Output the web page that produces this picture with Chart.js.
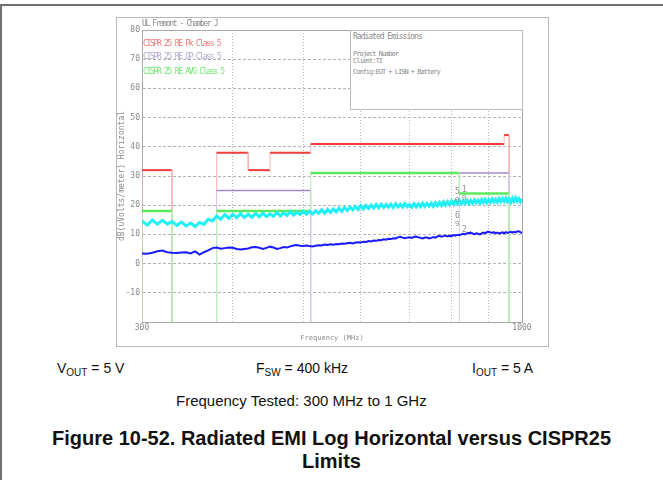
<!DOCTYPE html>
<html>
<head>
<meta charset="utf-8">
<script src="https://cdn.jsdelivr.net/npm/chart.js@4.4.1/dist/chart.umd.min.js"></script>
<style>
body { margin: 0; width: 663px; height: 480px; background: #fff; position: relative; overflow: hidden; font-family: "Liberation Sans", Arial, sans-serif; }
.abs { position: absolute; }
#topline { left: 0; top: 4px; width: 663px; height: 2px; background: #707070; }
#leftline { left: 0; top: 4px; width: 2px; height: 476px; background: #707070; }
#frame { left: 116px; top: 17px; width: 431px; height: 328px; border: 1px solid #b8b8b8; }
#chartBox { left: 0; top: 0; width: 663px; height: 350px; }
.mono { font-family: "DejaVu Sans Mono", monospace; white-space: nowrap; line-height: 1; }
#infoBox { left: 350px; top: 30px; width: 171px; height: 78px; border: 1px solid #bdbdbd; background: #fff; }
.small { font-size: 14px; color: #111; white-space: nowrap; }
.small sub { font-size: 10px; vertical-align: -3px; }
#caption { left: 0; top: 427px; width: 663px; text-align: center; font-weight: bold; font-size: 20px; line-height: 23px; color: #111; }
</style>
</head>
<body>
<div class="abs" id="topline"></div>
<div class="abs" id="leftline"></div>
<div class="abs" id="frame"></div>
<div class="abs" id="chartBox"><canvas id="emi" width="663" height="350"></canvas></div>

<div class="abs mono" style="left:142px;top:20px;font-size:8px;letter-spacing:-1.4px;color:#8a8a8a;">UL Fremont - Chamber J</div>
<div class="abs mono" style="left:143px;top:40px;font-size:8px;letter-spacing:-1.3px;color:#f07878;">CISPR 25 RE Pk Class 5</div>
<div class="abs mono" style="left:143px;top:53px;font-size:8px;letter-spacing:-1.3px;color:#b4a4d0;">CISPR 25 RE QP Class 5</div>
<div class="abs mono" style="left:143px;top:68px;font-size:8px;letter-spacing:-1.3px;color:#6ee86e;">CISPR 25 RE AVG Class 5</div>

<div class="abs" id="infoBox"></div>
<div class="abs mono" style="left:353px;top:33px;font-size:8px;letter-spacing:-1px;color:#8a8a8a;">Radiated Emissions</div>
<div class="abs mono" style="left:353px;top:51px;font-size:7px;letter-spacing:-1px;color:#8a8a8a;">Project Number</div>
<div class="abs mono" style="left:353px;top:58px;font-size:7px;letter-spacing:-1px;color:#8a8a8a;">Client:TI</div>
<div class="abs mono" style="left:353px;top:69px;font-size:7px;letter-spacing:-1px;color:#8a8a8a;">Config:EUT + LISN + Battery</div>

<div class="abs mono" style="left:455px;top:188px;font-size:8px;color:#909090;">5</div>
<div class="abs mono" style="left:462px;top:186px;font-size:8px;color:#909090;">1</div>
<div class="abs mono" style="left:455px;top:197px;font-size:7px;color:#909090;">0</div>
<div class="abs mono" style="left:462px;top:195px;font-size:7px;color:#909090;">0</div>
<div class="abs mono" style="left:455px;top:212px;font-size:8px;color:#909090;">6</div>
<div class="abs mono" style="left:455px;top:221px;font-size:7px;color:#909090;">9</div>
<div class="abs mono" style="left:462px;top:226px;font-size:8px;color:#909090;">2</div>

<div class="abs small" style="left:57px;top:360px;">V<sub>OUT</sub> = 5 V</div>
<div class="abs small" style="left:256px;top:360px;">F<sub>SW</sub> = 400 kHz</div>
<div class="abs small" style="left:472px;top:360px;">I<sub>OUT</sub> = 5 A</div>
<div class="abs small" style="left:176px;top:392px;font-size:15px;">Frequency Tested: 300 MHz to 1 GHz</div>
<div class="abs" id="caption">Figure 10-52. Radiated EMI Log Horizontal versus CISPR25<br>Limits</div>

<script>
// sweep frequencies (MHz)
const freqMHz = [
  300,305,310,315,320,325,330,335,340,345,
  350,355,360,365,370,375,380,385,390,395,
  400,405,410,415,420,425,430,435,440,445,
  450,455,460,465,470,475,480,485,490,495,
  500,505,510,515,520,525,530,535,540,545,
  550,555,560,565,570,575,580,585,590,595,
  600,605,610,615,620,625,630,635,640,645,
  650,655,660,665,670,675,680,685,690,695,
  700,705,710,715,720,725,730,735,740,745,
  750,755,760,765,770,775,780,785,790,795,
  800,805,810,815,820,825,830,835,840,845,
  850,855,860,865,870,875,880,885,890,895,
  900,905,910,915,920,925,930,935,940,945,
  950,955,960,965,970,975,980,985,990,995,
  1000
];

// peak detector trace (cyan), dBuV/m
const peakTrace = [
  14.6,13.2,14.9,13.5,14.8,13.6,14.4,13.1,14.2,12.9,
  13.9,12.7,14.1,13.4,15.2,14.6,16.3,15.2,16.8,15.5,
  16.9,15.7,17.1,15.8,16.9,15.9,17.2,16.0,17.3,16.1,
  17.0,16.2,17.5,16.3,17.4,16.5,17.8,16.6,17.6,16.8,
  18.0,16.9,17.9,17.0,18.1,17.2,18.4,17.3,18.6,17.5,
  18.7,17.7,19.0,17.9,19.2,18.2,19.4,18.4,19.6,18.5,
  19.8,18.7,19.9,18.9,20.0,19.0,20.2,19.1,20.3,19.2,
  20.2,19.3,20.4,19.2,20.5,19.4,20.3,19.3,20.6,19.5,
  20.2,19.3,20.5,19.4,20.4,19.5,20.7,19.6,20.6,19.7,
  20.7,19.6,20.8,19.8,21.0,19.9,21.1,20.0,21.2,20.2,
  21.4,20.3,21.5,20.4,21.6,20.5,21.5,20.6,21.7,20.5,
  21.6,20.7,21.8,20.8,21.7,20.7,21.9,20.9,22.0,20.8,
  21.9,21.0,22.1,21.1,22.0,21.0,22.2,21.2,22.3,21.3,
  22.4,21.2,22.1,21.0,22.3,21.3,22.5,21.4,22.3,21.2,
  22.1
];

// average detector trace (blue), dBuV/m
const avgTrace = [
  3.5,3.4,3.7,4.2,4.5,3.9,3.7,3.6,3.8,3.9,
  3.5,4.2,3.1,3.9,4.5,5.3,5.5,5.1,5.3,5.5,
  5.4,5.0,4.8,5.0,5.2,5.6,5.7,5.4,5.0,5.4,
  5.8,5.5,5.0,5.3,5.7,5.5,5.9,6.2,6.4,6.1,
  6.0,6.2,6.0,5.9,6.1,6.3,6.2,6.5,6.4,6.6,
  6.5,6.7,6.6,6.9,6.8,7.0,7.1,6.9,7.2,7.3,
  7.2,7.5,7.4,7.7,7.6,7.9,7.8,8.1,8.0,8.3,
  8.2,8.5,8.4,8.7,8.6,9.0,9.2,8.9,8.7,8.9,
  9.0,8.8,9.1,9.3,9.0,8.8,8.6,8.9,8.9,8.6,
  8.8,9.1,8.9,9.3,9.5,9.2,9.4,9.6,9.3,9.5,
  9.4,9.8,9.6,9.9,9.7,10.0,10.2,10.0,10.4,10.5,
  10.6,10.3,10.1,10.4,10.2,10.0,10.3,10.6,10.4,10.8,
  10.9,10.7,10.5,10.8,10.4,10.6,10.3,10.5,10.7,10.4,
  10.8,10.5,10.7,10.9,10.6,10.9,10.7,11.0,11.1,10.8,
  10.4
];

// CISPR 25 class 5 limit bands: [start MHz, stop MHz, level dBuV/m]
const pkLimit = [[300, 330, 32], [380, 420, 38], [420, 450, 32], [450, 512, 38], [512, 945, 41], [945, 960, 44]];
const qpLimit = [[380, 512, 25], [820, 960, 31]];
const avgLimit = [[300, 330, 18], [380, 512, 18], [512, 820, 31], [820, 960, 24]];

const yTicks = [-20, -10, 0, 10, 20, 30, 40, 50, 60, 70, 80];
const xTicks = [300, 400, 500, 600, 700, 800, 900, 1000];
const yMin = -20, yMax = 80;

// turn bands into a step line that drops to the bottom of the plot between bands
function bandLine(bands) {
	const pts = [];
	let prev = null;
	bands.forEach(b => {
		if (!prev || prev[1] !== b[0]) {
			if (prev) {
				pts.push({ x: prev[1], y: yMin });
				pts.push({ x: prev[1], y: null });
			}
			pts.push({ x: b[0], y: yMin });
		}
		pts.push({ x: b[0], y: b[2] });
		pts.push({ x: b[1], y: b[2] });
		prev = b;
	});
	pts.push({ x: prev[1], y: yMin });
	return pts;
}

function limitSet(label, bands, dark, light, width) {
	return {
		label: label,
		data: bandLine(bands),
		borderColor: dark,
		borderWidth: width,
		pointRadius: 0,
		spanGaps: false,
		segment: {
			borderColor: c => c.p0.parsed.x === c.p1.parsed.x ? light : dark,
			borderWidth: c => c.p0.parsed.x === c.p1.parsed.x ? 1 : width,
		},
	};
}

const frame = {
	id: "frame",
	beforeDatasetsDraw(chart) {
		const a = chart.chartArea;
		const ctx = chart.ctx;
		ctx.save();
		ctx.strokeStyle = "#a8a8a8";
		ctx.lineWidth = 1;
		ctx.strokeRect(a.left + 0.5, a.top + 0.5, a.right - a.left, a.bottom - a.top);
		ctx.restore();
	},
};

const tickFont = { family: "DejaVu Sans Mono", size: 8 };

new Chart(document.getElementById("emi"), {
	type: "line",
	data: {
		datasets: [
			{
				label: "Average",
				data: freqMHz.map((f, i) => ({ x: f, y: avgTrace[i] })),
				borderColor: "#1a1aff",
				borderWidth: 2,
				pointRadius: 0,
			},
			{
				label: "Peak",
				data: freqMHz.map((f, i) => ({ x: f, y: peakTrace[i] })),
				borderColor: "#1ef0f6",
				borderWidth: 3,
				pointRadius: 0,
			},
			limitSet("CISPR 25 RE AVG Class 5", avgLimit, "#5ce85c", "#b4f2b4", 2.5),
			limitSet("CISPR 25 RE QP Class 5", qpLimit, "#a488c8", "#d4cae8", 1.5),
			limitSet("CISPR 25 RE Pk Class 5", pkLimit, "#f03c3c", "#f8b4b4", 2),
		],
	},
	options: {
		responsive: false,
		animation: false,
		events: [],
		layout: { padding: { left: 113, right: 141, top: 30, bottom: 6 } },
		plugins: { legend: { display: false }, tooltip: { enabled: false } },
		scales: {
			x: {
				type: "logarithmic",
				min: 300,
				max: 1000,
				afterBuildTicks: s => { s.ticks = xTicks.map(v => ({ value: v })); },
				afterFit: s => { s.height = 22; },
				ticks: {
					autoSkip: false,
					maxRotation: 0,
					padding: 1,
					color: "#8a8a8a",
					font: tickFont,
					callback: v => (v === 300 || v === 1000) ? String(v) : "",
				},
				grid: { color: "#b4b4b4", drawTicks: false },
				border: { color: "#a8a8a8", dash: [1, 2] },
				title: {
					display: true,
					text: "Frequency (MHz)",
					color: "#8a8a8a",
					font: { family: "DejaVu Sans Mono", size: 7 },
					padding: { top: 0, bottom: 2 },
				},
			},
			y: {
				min: yMin,
				max: yMax,
				afterBuildTicks: s => { s.ticks = yTicks.map(v => ({ value: v })); },
				afterFit: s => { s.width = 29; },
				ticks: {
					padding: 2,
					color: "#8a8a8a",
					font: tickFont,
					callback: v => v === yMin ? "" : String(v),
				},
				grid: { color: "#b4b4b4", drawTicks: false },
				border: { color: "#a8a8a8", dash: [3, 2] },
				title: {
					display: true,
					text: "dB(uVolts/meter) Horizontal",
					color: "#8a8a8a",
					font: { family: "DejaVu Sans Mono", size: 8 },
					padding: { top: 4, bottom: 0 },
				},
			},
		},
	},
	plugins: [frame],
});
</script>
</body>
</html>
